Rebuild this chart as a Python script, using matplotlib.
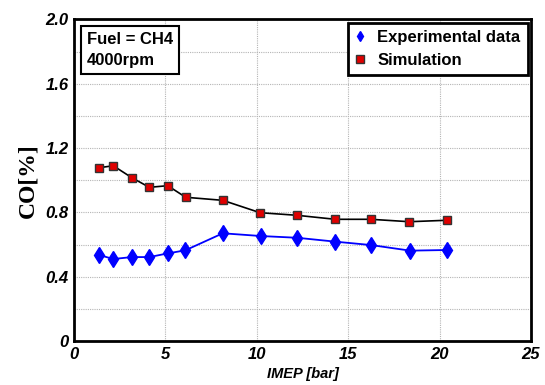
import matplotlib
matplotlib.use("Agg")
import matplotlib.pyplot as plt
from matplotlib.ticker import MultipleLocator, FixedLocator, FixedFormatter

# Data
imep_sim = [1.37, 2.15, 3.16, 4.12, 5.13, 6.11, 8.14, 10.18, 12.19, 14.29, 16.24, 18.35, 20.40]
co_sim = [1.078, 1.090, 1.016, 0.956, 0.966, 0.894, 0.875, 0.798, 0.782, 0.757, 0.757, 0.742, 0.751]
imep_exp = [1.37, 2.15, 3.16, 4.12, 5.13, 6.09, 8.14, 10.22, 12.22, 14.29, 16.24, 18.39, 20.40]
co_exp = [0.535, 0.510, 0.522, 0.522, 0.545, 0.564, 0.670, 0.653, 0.642, 0.618, 0.597, 0.562, 0.566]

xticks = [0, 5, 10, 15, 20, 25]
yticks = [0, 0.4, 0.8, 1.2, 1.6, 2.0]
ytick_labels = ["0", "0.4", "0.8", "1.2", "1.6", "2.0"]

fig = plt.figure(figsize=(5.45, 3.85), dpi=100)
ax = fig.add_axes([0.1358, 0.1143, 0.8385, 0.8351])

ax.plot(imep_exp, co_exp, color="blue", lw=1.3, marker="d", markersize=8,
        markerfacecolor="blue", markeredgecolor="blue", label="Experimental data", zorder=3)
ax.plot(imep_sim, co_sim, color="black", lw=1.2, marker="s", markersize=5.5,
        markerfacecolor="#e00000", markeredgecolor="#333333", markeredgewidth=1.0,
        label="Simulation", zorder=3)

ax.set_xlim(0, 25)
ax.set_ylim(0, 2.0)
ax.xaxis.set_major_locator(FixedLocator(xticks))
ax.yaxis.set_major_locator(FixedLocator(yticks))
ax.yaxis.set_major_formatter(FixedFormatter(ytick_labels))
ax.yaxis.set_minor_locator(MultipleLocator(0.2))
ax.grid(True, which="both", color="#b5b5b5", linestyle=(0, (1, 1)), linewidth=0.8)
ax.tick_params(which="both", length=0)
ax.tick_params(axis="x", pad=4)
ax.tick_params(axis="y", pad=4)
for lab in ax.get_xticklabels() + ax.get_yticklabels():
    lab.set_fontfamily("Liberation Sans")
    lab.set_fontweight("bold")
    lab.set_fontstyle("italic")
    lab.set_fontsize(12)
for s in ax.spines.values():
    s.set_linewidth(2)
    s.set_color("black")

ax.set_xlabel("IMEP [bar]", fontfamily="Liberation Sans", fontweight="bold",
              fontstyle="italic", fontsize=10.5, labelpad=4)
ax.set_ylabel("CO[%]", fontfamily="Liberation Serif", fontweight="bold",
              fontsize=17, labelpad=5)

ax.text(0.028, 0.962, "Fuel = CH4\n4000rpm", transform=ax.transAxes,
        ha="left", va="top", fontfamily="Liberation Sans", fontweight="bold",
        fontsize=12, linespacing=1.55,
        bbox=dict(boxstyle="square,pad=0.35", facecolor="white", edgecolor="black", linewidth=1.5),
        zorder=5)

leg = ax.legend(loc="upper right", prop=dict(family="Liberation Sans", weight="bold", size=12),
                handlelength=0.6, handletextpad=0.7, borderpad=0.45, labelspacing=0.45,
                borderaxespad=0.2, fancybox=False, framealpha=1, edgecolor="black")
leg.get_frame().set_linewidth(2)
for h in leg.legend_handles:
    h.set_linestyle("none")
    h.set_markersize(5.5)

fig.savefig("out.png", dpi=100)
